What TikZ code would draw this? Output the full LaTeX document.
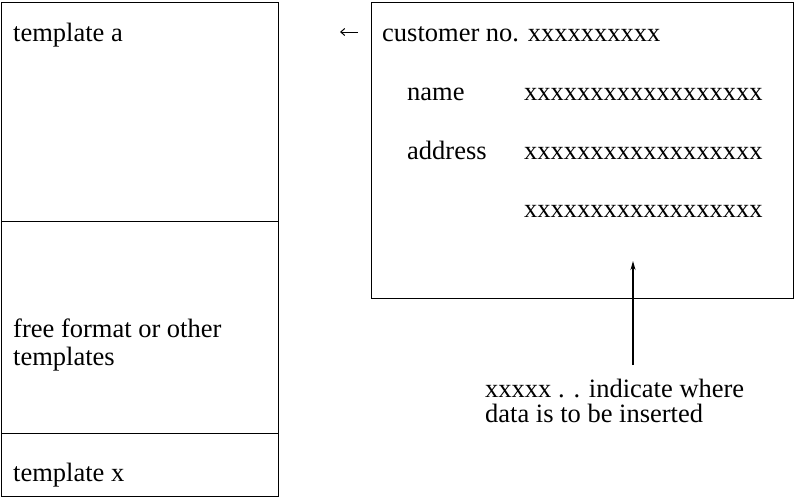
\documentclass[tikz,border=0pt]{standalone}
\usepackage{fontspec}
\setmainfont{Liberation Serif}
\usetikzlibrary{arrows.meta}
\begin{document}
\begin{tikzpicture}[x=1pt,y=-1pt,
  frame/.style={draw, line width=1.4pt, inner sep=0pt, anchor=north west},
  lbl/.style={anchor=base west, inner sep=0pt, font=\fontsize{26.5}{28}\selectfont},
  pointer/.style={line width=1.2pt, -{Stealth[length=9pt,width=5pt]}},
  smallpointer/.style={line width=1pt, -{Straight Barb[length=4pt,width=7pt]}}]
\useasboundingbox (0,0) rectangle (794,498);

% screen split into template areas
\node[frame, minimum width=277pt, minimum height=219pt] (tplA) at (1,2) {};
\node[frame, minimum width=277pt, minimum height=212pt] (tplFree) at (1,221) {};
\node[frame, minimum width=277pt, minimum height=63pt] (tplX) at (1,433) {};

\node[lbl] (labA) at (13,41) {template a};
\node[lbl] (labFree1) at (13,337) {free format or other};
\node[lbl] (labFree2) at (13,365) {templates};
\node[lbl] (labX) at (13,481) {template x};

% contents of template a
\node[frame, minimum width=422pt, minimum height=296pt] (form) at (371,2) {};

\node[lbl] (cust) at (382,41) {customer no. xxxxxxxxxx};
\node[lbl] (nameL) at (407,100) {name};
\node[lbl] (nameX) at (524,100) {xxxxxxxxxxxxxxxxxx};
\node[lbl] (addrL) at (407,159) {address};
\node[lbl] (addrX) at (524,159) {xxxxxxxxxxxxxxxxxx};
\node[lbl] (addrX2) at (524,217) {xxxxxxxxxxxxxxxxxx};

% pointer from the form back to template a
\coordinate (backFrom) at (358,32);
\coordinate (backTo) at (340,32);
\draw[smallpointer] (backFrom) -- (backTo);

% explanatory note
\node[lbl] (note1) at (485,397) {xxxxx . . indicate where};
\node[lbl] (note2) at (485,422) {data is to be inserted};
\coordinate (noteFoot) at (633,365);
\coordinate (noteTip) at (633,261);
\draw[pointer] (noteFoot) -- (noteTip);
\end{tikzpicture}
\end{document}
